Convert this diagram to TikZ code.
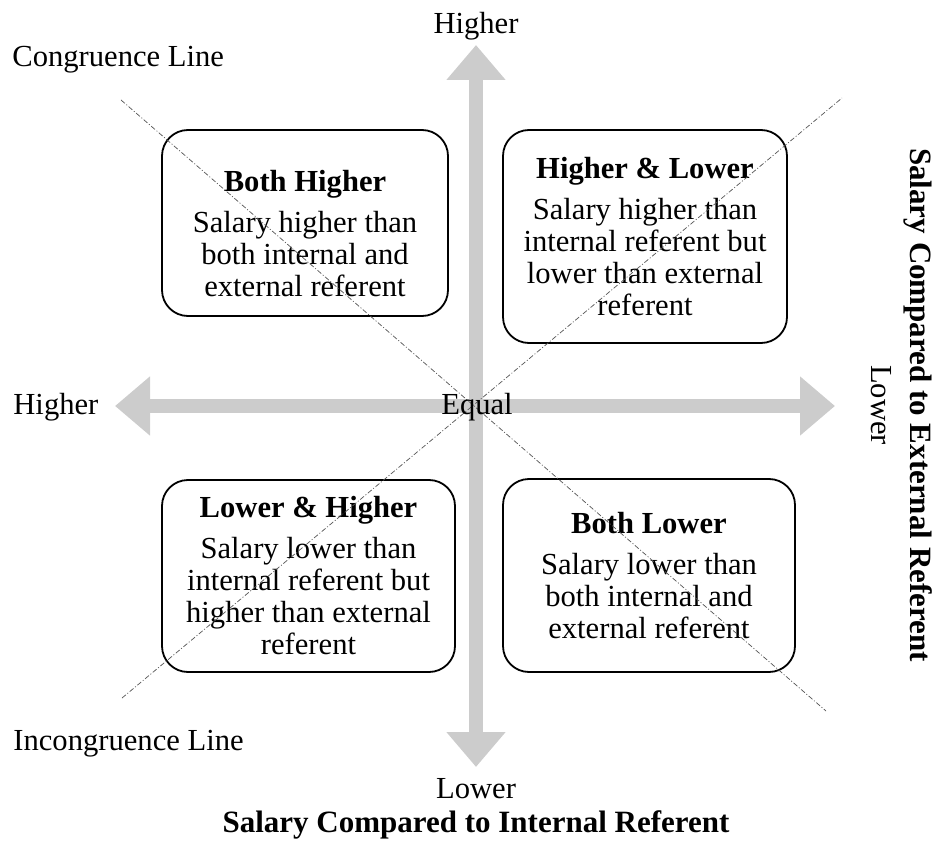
\documentclass[tikz,border=0pt]{standalone}
\usepackage{fontspec}
\setmainfont{Liberation Serif}
\usetikzlibrary{arrows.meta,positioning}
\definecolor{axisgray}{HTML}{CCCCCC}
\definecolor{guidegray}{HTML}{555555}
\tikzset{
  quadbox/.style={draw, rounded corners=13pt, line width=0.9pt, align=center,
    inner sep=0pt, fill=white, font=\fontsize{15.3}{16}\selectfont},
  axisarrow/.style={{Triangle[width=28.5pt,length=17.5pt]}-{Triangle[width=28.5pt,length=17.5pt]},
    line width=7pt, draw=axisgray},
  guideline/.style={draw=guidegray, line width=0.35pt,
    dash pattern=on 2.5pt off 1pt on 0.5pt off 1pt},
  axislabel/.style={inner sep=0pt, font=\fontsize{15.3}{16}\selectfont},
  axistitle/.style={inner sep=0pt, font=\fontsize{15.5}{16}\selectfont\bfseries}
}
\begin{document}
\begin{tikzpicture}[x=0.5pt,y=-0.5pt]
    \useasboundingbox (0,0) rectangle (936,844);
    % axes
    \coordinate (axtop) at (476,45);
    \coordinate (axbottom) at (476,767);
    \coordinate (axleft) at (115,406);
    \coordinate (axright) at (835,406);
    \draw[axisarrow] (axleft) -- (axright);
    \draw[axisarrow] (axtop) -- (axbottom);
    % quadrants
    \node[quadbox, minimum width=143pt, minimum height=93pt] (bothhigh) at (305,223)
      {\rule{0pt}{21pt}\textbf{Both Higher}\\[4.5pt]Salary higher than\\both internal and\\external referent};
    \node[quadbox, minimum width=142pt, minimum height=106.5pt] (highlow) at (645,236.5)
      {\textbf{Higher \& Lower}\\[4.5pt]Salary higher than\\internal referent but\\lower than external\\referent};
    \node[quadbox, minimum width=146.5pt, minimum height=96pt] (lowhigh) at (308.5,576)
      {\textbf{Lower \& Higher}\\[4.5pt]Salary lower than\\internal referent but\\higher than external\\referent};
    \node[quadbox, minimum width=146pt, minimum height=96.5pt] (bothlow) at (649,575.5)
      {\textbf{Both Lower}\\[4.5pt]Salary lower than\\both internal and\\external referent};
    % congruence / incongruence lines
    \coordinate (congstart) at (121,100);
    \coordinate (congend) at (826,711);
    \coordinate (incstart) at (122,698);
    \coordinate (incend) at (842,98);
    \draw[guideline] (congstart) -- (congend);
    \draw[guideline] (incstart) -- (incend);
    % labels
    \node[axislabel, anchor=base] (toplbl) at (476,34) {Higher};
    \node[axislabel, anchor=base west] (conglbl) at (12,67) {Congruence Line};
    \node[axislabel, anchor=base west] (leftlbl) at (13,415) {Higher};
    \node[axislabel, anchor=base] (equallbl) at (477,415) {Equal};
    \node[axislabel, rotate=-90] (rightlbl) at (881,405) {Lower};
    \node[axistitle, rotate=-90] (exttitle) at (918,405) {Salary Compared to External Referent};
    \node[axislabel, anchor=base west] (inclbl) at (13,750) {Incongruence Line};
    \node[axislabel, anchor=base] (botlbl) at (476,798) {Lower};
    \node[axistitle, anchor=base] (inttitle) at (476,832) {Salary Compared to Internal Referent};
\end{tikzpicture}
\end{document}
